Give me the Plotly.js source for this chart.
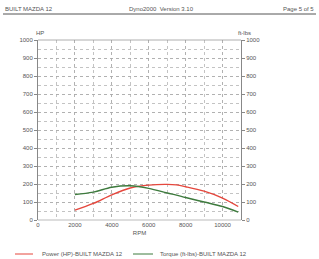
<!DOCTYPE html>
<html><head><meta charset="utf-8">
<script src="https://cdn.plot.ly/plotly-3.0.1.min.js"></script>
<style>html,body{margin:0;padding:0;background:#fff;}#c{width:319px;height:259px;}</style>
</head><body><div id="c"></div>
<script>
const rpm = [2000, 3000, 4000, 5000, 6000, 7000, 7500, 8000, 9000, 10000, 10850];
const powerHP = [55, 92, 140, 178, 194, 198, 195, 185, 160, 122, 75];
const torqueFtLbs = [142, 155, 182, 190, 176, 150, 138, 125, 100, 75, 44];
const yTicks = [0, 100, 200, 300, 400, 500, 600, 700, 800, 900, 1000];
const xTicks = [0, 2000, 4000, 6000, 8000, 10000];
const headerLeft = "BUILT MAZDA 12";
const headerCenter = "Dyno2000  Version 3.10";
const headerRight = "Page 5 of 5";
const seriesNames = ["Power (HP)-BUILT MAZDA 12", "Torque (ft-lbs)-BUILT MAZDA 12"];

const red = "#e5473d", green = "#3d7a3d", txt = "#555";
const F = {family: "Liberation Sans, Arial, sans-serif", size: 6, color: txt};
const gc = "#aaa";

const L = 38, R = 241, T = 40, B = 220, W = 319, H = 259;
const px = x => (x - L) / (R - L);
const py = y => (B - y) / (B - T);

const traces = [
  {x: rpm, y: powerHP, type: "scatter", mode: "lines", name: seriesNames[0],
   line: {color: red, width: 1.4, shape: "spline"}, showlegend: false},
  {x: rpm, y: torqueFtLbs, type: "scatter", mode: "lines", name: seriesNames[1], yaxis: "y2",
   line: {color: green, width: 1.4, shape: "spline"}, showlegend: false}
];

const grid = {showgrid: true, gridcolor: gc, griddash: "dot", gridwidth: 0.7};
const layout = {
  width: W, height: H, paper_bgcolor: "#fff", plot_bgcolor: "#fff",
  margin: {l: L, r: W - R, t: T, b: H - B},
  font: F, showlegend: false,
  xaxis: Object.assign({range: [0, 11000], tickvals: xTicks, ticktext: xTicks.map(String),
    minor: {dtick: 1000, showgrid: true, gridcolor: gc, griddash: "dot", gridwidth: 0.7},
    showline: false, zeroline: false, ticks: "", ticklen: 0,
    tickfont: F, title: {text: "RPM", font: F, standoff: 3}}, grid),
  yaxis: Object.assign({range: [0, 1000], tickvals: yTicks, ticks: "outside", ticklen: 3, tickcolor: "#888",
    minor: {dtick: 50, showgrid: true, gridcolor: gc, griddash: "dot", gridwidth: 0.7},
    showline: true, linecolor: "#888", linewidth: 1, zeroline: false, tickfont: F}, grid),
  yaxis2: {range: [0, 1000], tickvals: yTicks, overlaying: "y", side: "right", ticks: "outside", ticklen: 3,
    tickcolor: "#888", showline: true, linecolor: "#888", linewidth: 1, showgrid: false, zeroline: false, tickfont: F},
  shapes: [
    {type: "line", xref: "paper", yref: "paper", x0: px(3), x1: px(316), y0: py(14), y1: py(14), line: {color: "#555", width: 1}},
    {type: "line", xref: "paper", yref: "paper", x0: 0, x1: 1, y0: 1, y1: 1, line: {color: "#999", width: 0.8}},
    {type: "line", xref: "paper", yref: "paper", x0: 0, x1: 1, y0: 0, y1: 0, line: {color: "#aaa", width: 0.8}},
    {type: "line", xref: "paper", yref: "paper", x0: px(15), x1: px(33), y0: py(254), y1: py(254), line: {color: red, width: 1}},
    {type: "line", xref: "paper", yref: "paper", x0: px(133), x1: px(153), y0: py(254), y1: py(254), line: {color: green, width: 1}}
  ],
  annotations: [
    {text: headerLeft, xref: "paper", yref: "paper", x: px(3), y: py(9), xanchor: "left", yanchor: "middle", showarrow: false, font: F},
    {text: headerCenter, xref: "paper", yref: "paper", x: px(161), y: py(9), xanchor: "center", yanchor: "middle", showarrow: false, font: F},
    {text: headerRight, xref: "paper", yref: "paper", x: px(316), y: py(9), xanchor: "right", yanchor: "middle", showarrow: false, font: F},
    {text: "HP", xref: "paper", yref: "paper", x: px(34), y: py(33), xanchor: "left", yanchor: "middle", showarrow: false, font: F},
    {text: "ft-lbs", xref: "paper", yref: "paper", x: px(236), y: py(33), xanchor: "left", yanchor: "middle", showarrow: false, font: F},
    {text: seriesNames[0], xref: "paper", yref: "paper", x: px(40), y: py(254), xanchor: "left", yanchor: "middle", showarrow: false, font: F},
    {text: seriesNames[1], xref: "paper", yref: "paper", x: px(158), y: py(254), xanchor: "left", yanchor: "middle", showarrow: false, font: F}
  ]
};
Plotly.newPlot("c", traces, layout, {staticPlot: true, displayModeBar: false});
</script></body></html>
